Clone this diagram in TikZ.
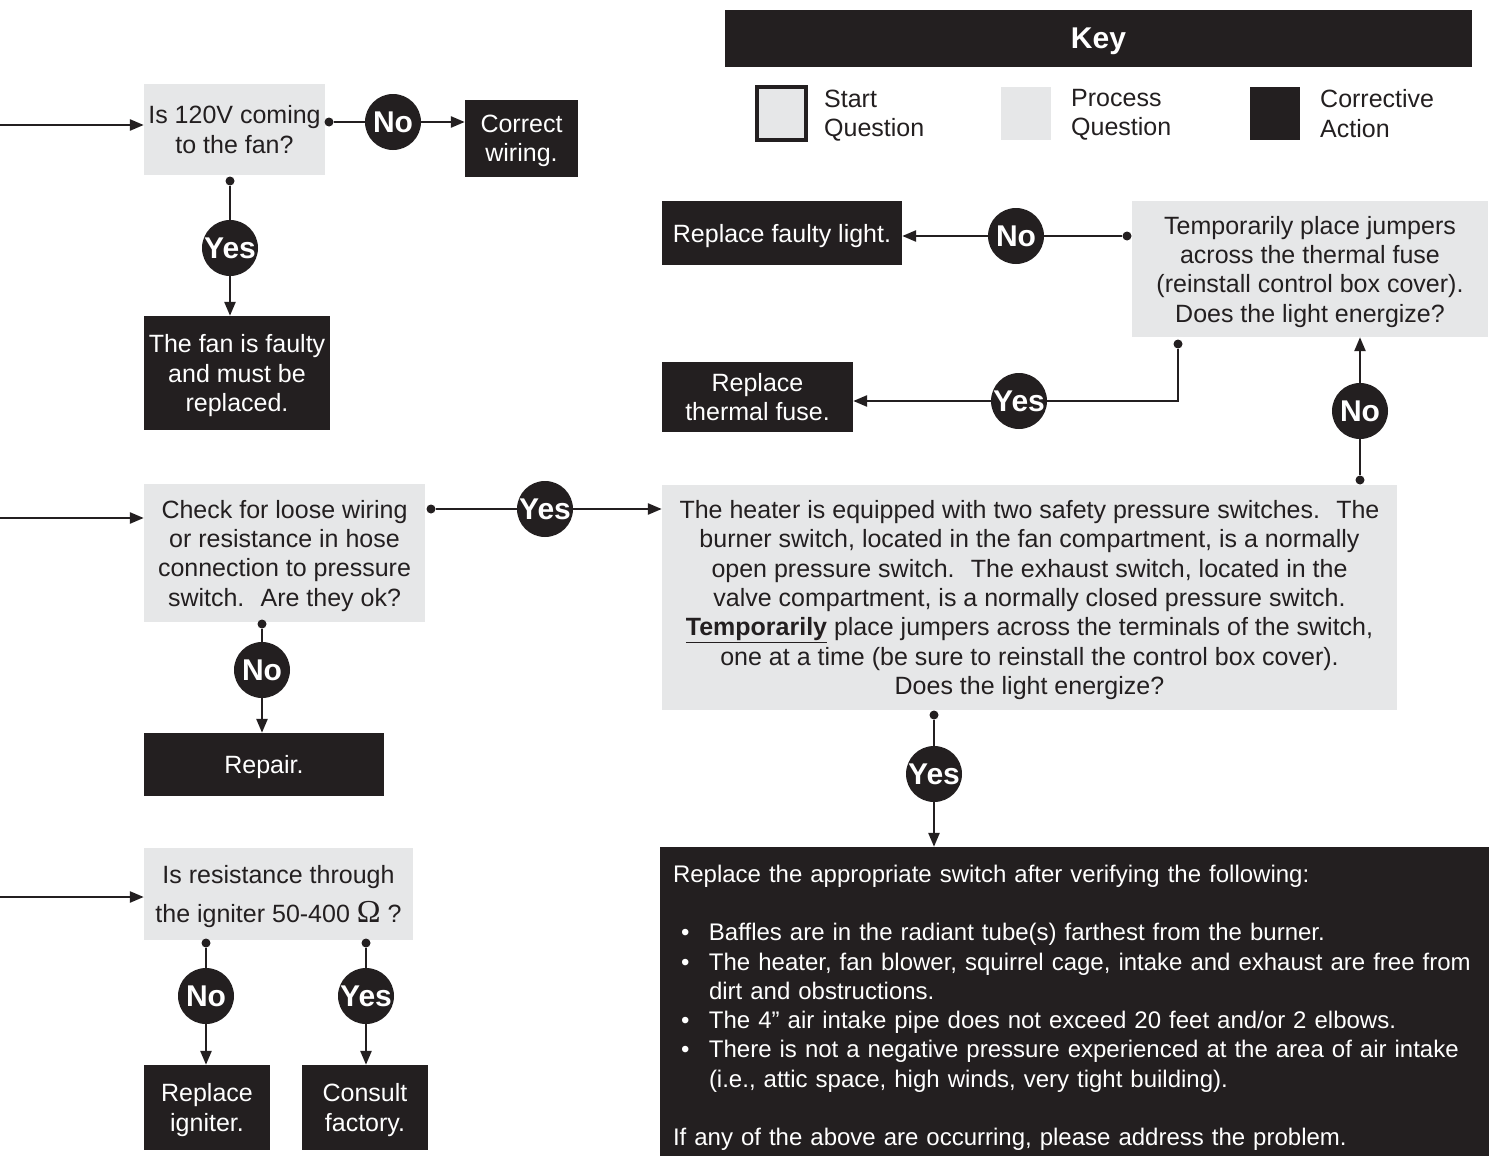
\documentclass[tikz,border=0pt]{standalone}
\usepackage{fontspec}
\setmainfont{Liberation Sans}
\newfontfamily\omfont{Liberation Serif}
\usetikzlibrary{arrows.meta}
\definecolor{pgray}{HTML}{E6E7E8}
\definecolor{cblk}{HTML}{231F20}
\newcommand\fbul{\hspace*{8pt}\makebox[28pt][l]{\textbullet}}
\newcommand\fcont{\hspace*{36pt}}
\tikzset{
 base/.style={font=\fontsize{25}{29.3}\selectfont},
 proc/.style={rectangle, fill=pgray, inner sep=0pt, align=center, text=cblk, text depth=0pt},
 act/.style={rectangle, fill=cblk, inner sep=0pt, align=center, text=white, text depth=0pt},
 actpar/.style={rectangle, fill=cblk, text=white, inner ysep=0pt},
 yn/.style={circle, fill=cblk, text=white, inner sep=0pt, minimum size=56pt, font=\bfseries\fontsize{30}{30}\selectfont},
 dotn/.style={circle, fill=cblk, inner sep=0pt, minimum size=9pt},
 conn/.style={draw=cblk, line width=2.5pt},
 arr/.style={conn, -{Triangle[length=14pt,width=11pt]}},
 keytxt/.style={anchor=west, align=left, inner sep=0pt, text=cblk, text depth=0pt},
}
\begin{document}
\begin{tikzpicture}[x=1pt,y=-1pt,base]
\useasboundingbox (0,0) rectangle (1489,1156);
\fill[white] (0,0) rectangle (1489,1156);

% ---------- Key ----------
\node[act, minimum width=747pt, minimum height=57pt, text depth=-6pt, font=\bfseries\fontsize{30}{30}\selectfont] (key) at (1098.5,38.5) {Key};
\node[proc, draw=cblk, line width=4pt, minimum width=49pt, minimum height=53pt] (ks) at (781.5,113.5) {};
\node[keytxt] (kst) at (824,113.5) {Start\\Question};
\node[proc, minimum width=50pt, minimum height=53pt] (kp) at (1026,113.5) {};
\node[keytxt] (kpt) at (1071,112.5) {Process\\Question};
\node[act, minimum width=50pt, minimum height=53pt] (kc) at (1275,113.5) {};
\node[keytxt] (kct) at (1320,113.5) {Corrective\\Action};

% ---------- Boxes ----------
\node[proc, minimum width=181pt, minimum height=91pt] (q1) at (234.5,129.5) {Is 120V coming\\to the fan?};
\node[act, minimum width=113pt, minimum height=77pt] (cw) at (521.5,138.5) {Correct\\wiring.};
\node[act, minimum width=186pt, minimum height=114pt] (fan) at (237,373) {The fan is faulty\\and must be\\replaced.};

\node[act, minimum width=240pt, minimum height=64pt] (rfl) at (782,233) {Replace faulty light.};
\node[proc, minimum width=356pt, minimum height=136pt] (tj) at (1310,269) {Temporarily place jumpers\\across the thermal fuse\\(reinstall control box cover).\\Does the light energize?};
\node[act, minimum width=191pt, minimum height=70pt] (rtf) at (757.5,397) {Replace\\thermal fuse.};

\node[proc, minimum width=735pt, minimum height=225pt] (big) at (1029.5,597.5) {The heater is equipped with two safety pressure switches.~ The\\burner switch, located in the fan compartment, is a normally\\open pressure switch.~ The exhaust switch, located in the\\valve compartment, is a normally closed pressure switch.\\\underline{\textbf{Temporarily}} place jumpers across the terminals of the switch,\\one at a time (be sure to reinstall the control box cover).\\Does the light energize?};

\node[proc, minimum width=281pt, minimum height=138pt] (chk) at (284.5,553) {Check for loose wiring\\or resistance in hose\\connection to pressure\\switch.~ Are they ok?};
\node[act, minimum width=240pt, minimum height=63pt] (rep) at (264,764.5) {Repair.};

\node[proc, minimum width=269pt, minimum height=92pt] (res) at (278.5,894) {Is resistance through\\[9pt]the igniter 50-400 {\omfont\fontsize{32}{32}\selectfont Ω} ?};
\node[act, minimum width=126pt, minimum height=85pt] (rig) at (207,1107.5) {Replace\\igniter.};
\node[act, minimum width=126pt, minimum height=85pt] (cf) at (365,1107.5) {Consult\\factory.};

\node[actpar, minimum width=829pt, minimum height=309pt, text width=803pt, inner xsep=13pt, align=left, font=\fontsize{24}{29.3}\selectfont] (fin) at (1074.5,1001.5) {\rule{0pt}{30pt}Replace the appropriate switch after verifying the following:\\[29.3pt]
\fbul Baffles are in the radiant tube(s) farthest from the burner.\\
\fbul\mbox{The heater, fan blower, squirrel cage, intake and exhaust are free from}\\
\fcont dirt and obstructions.\\
\fbul The 4” air intake pipe does not exceed 20 feet and/or 2 elbows.\\
\fbul\mbox{There is not a negative pressure experienced at the area of air intake}\\
\fcont (i.e., attic space, high winds, very tight building).\\[29.3pt]
If any of the above are occurring, please address the problem.};

% ---------- Yes/No circles and dots ----------
\node[yn] (n1) at (393,122) {No};
\node[yn] (y1) at (230,248) {Yes};
\node[yn] (n2) at (1016,236) {No};
\node[yn] (y2) at (1019,401) {Yes};
\node[yn] (n3) at (1360,411) {No};
\node[yn] (y3) at (545,509) {Yes};
\node[yn] (n4) at (262,670) {No};
\node[yn] (n5) at (206,996) {No};
\node[yn] (y4) at (366,996) {Yes};
\node[yn] (y5) at (934,774) {Yes};

\node[dotn] (d1r) at (329,122) {};
\node[dotn] (d1b) at (230,181) {};
\node[dotn] (dtl) at (1127,236) {};
\node[dotn] (dtb) at (1178,344) {};
\node[dotn] (dbt) at (1360,480) {};
\node[dotn] (dch) at (431,509) {};
\node[dotn] (dcb) at (262,624) {};
\node[dotn] (dr1) at (206,943) {};
\node[dotn] (dr2) at (366,943) {};
\node[dotn] (dbb) at (934,715) {};

\coordinate (e1) at (0,125);
\coordinate (e2) at (0,518);
\coordinate (e3) at (0,897);

% ---------- Connectors ----------
\draw[arr] (e1) -- (e1 -| q1.west);
\draw[arr] (e2) -- (e2 -| chk.west);
\draw[arr] (e3) -- (e3 -| res.west);

\draw[conn] (d1r) -- (n1);
\draw[arr] (n1) -- (n1 -| cw.west);
\draw[conn] (d1b) -- (y1);
\draw[arr] (y1) -- (y1 |- fan.north);

\draw[conn] (dtl) -- (n2);
\draw[arr] (n2) -- (n2 -| rfl.east);
\draw[conn] (dtb) |- (y2);
\draw[arr] (y2) -- (y2 -| rtf.east);
\draw[conn] (dbt) -- (n3);
\draw[arr] (n3) -- (n3 |- tj.south);

\draw[conn] (dch) -- (y3);
\draw[arr] (y3) -- (y3 -| big.west);
\draw[conn] (dcb) -- (n4);
\draw[arr] (n4) -- (n4 |- rep.north);

\draw[conn] (dr1) -- (n5);
\draw[arr] (n5) -- (n5 |- rig.north);
\draw[conn] (dr2) -- (y4);
\draw[arr] (y4) -- (y4 |- cf.north);

\draw[conn] (dbb) -- (y5);
\draw[arr] (y5) -- (y5 |- fin.north);
\end{tikzpicture}
\end{document}
